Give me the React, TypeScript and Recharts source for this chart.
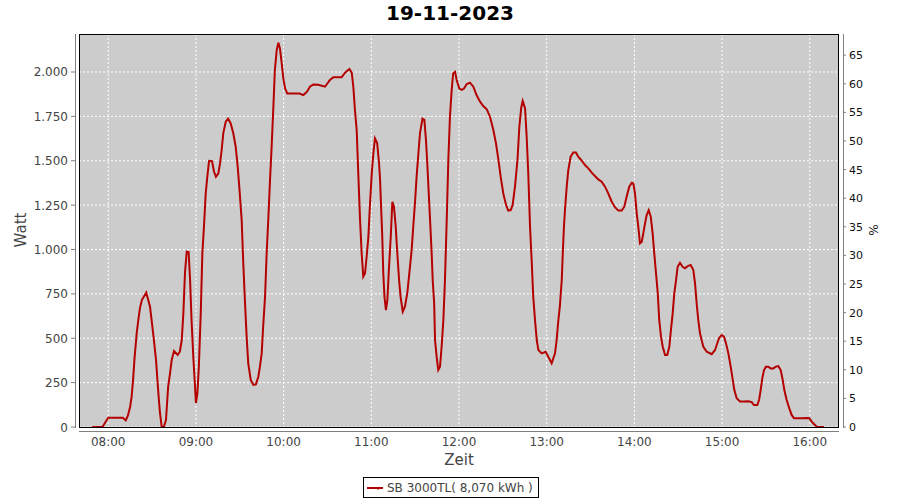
import React from 'react';
import { LineChart, Line, XAxis, YAxis, CartesianGrid } from 'recharts';

// minutes since midnight
const times = [
  469, 476, 479, 480, 490, 492, 493.5, 495, 496, 497,
  498, 499.5, 500.6, 501.7, 503, 506, 508.6, 511, 512.7, 514.3,
  515.4, 516.6, 518, 519.5, 521, 522.3, 523.4, 525, 527.5, 529,
  530.3, 531.4, 532.5, 533.7, 535, 536, 537, 538.2, 539.4, 540,
  541, 542, 543.3, 544.4, 545.5, 546.7, 547.8, 549, 551, 552.4,
  553.7, 555.3, 556.5, 557.6, 558.7, 560.4, 562, 563.8, 565.6, 567.2,
  568.6, 570, 571.3, 572.4, 573.6, 574.7, 575.8, 577.5, 579.3, 581,
  582.7, 583.8, 585, 586, 587.3, 588.4, 589.5, 590.7, 591.8, 593,
  594, 595.3, 596.4, 597.5, 598.7, 599.8, 601, 602.5,
  611, 613.5, 616, 618, 620.3, 623.7, 628.3, 631.7, 634, 639.7,
  642, 645, 646.6, 647.7, 648.8, 650, 651, 652.3, 653.4, 654.5,
  655.7, 656.8, 658, 659, 660.3, 661.4, 662.5, 664, 665.3, 666,
  666.6, 667.5, 668.2, 669, 670, 671, 672, 673.3, 674.4, 675.5,
  676.7, 677.8, 679, 680, 681.5, 683, 684.6, 686, 687.6, 688.7,
  690, 691, 692.2, 693.3, 695, 696.3, 697.4, 698.3, 699.3, 700.2,
  701.3, 702, 703, 703.6, 704.7, 705.8, 707, 708.2, 709.3, 710.4,
  711.6, 712.7, 713.8, 715, 716, 717.3, 718.4, 720.2, 721.8, 723.4,
  725.3, 727.5, 729.8, 732, 734.4, 736.6, 739, 741.2, 743.5, 745.3,
  747, 748.5, 750.3, 752.2, 753.7, 755.4, 756.7, 758.3, 760, 761.3,
  762.6, 763.6, 765.2, 766.3, 767.4, 768.6, 769.7, 770.8, 772, 773.2,
  774.3, 776.6, 779.3, 781.6, 783.4, 785.7, 786.8, 788, 789, 790.3,
  791, 791.8, 792.5, 793.7, 794.8, 796.4, 798.2, 800, 801.6, 804,
  806.2, 808.5, 810.8, 813, 815.3, 817.6, 819.9, 822.1, 824.5, 826.7,
  829, 831.3, 833.1, 834.7, 836.5, 838.2, 839.3, 840.4, 841.6, 842.7,
  843.8, 845, 846.1, 847.3, 848.4, 849.8, 851.2, 852.5, 853.6, 854.8,
  856, 857, 858.2, 859.4, 861, 862.5, 863.9, 865, 866.2, 867.3,
  868.5, 869.6, 871.2, 873, 874.6, 876.5, 878.5, 880.3, 881.5, 882.6,
  883.7, 884.9, 886, 887.2, 889.5, 892.9, 895.2, 896.3, 897.9, 899.7,
  901.3, 902.7, 904.3, 905.9, 907.3, 908.4, 910, 912.3, 915.2, 917.9,
  920.3, 921.8, 924.1, 925.3, 926.4, 927.5, 928.7, 930, 931.6, 933.3,
  935, 936.9, 938.5, 940.1, 941.5, 942.6, 944.2, 946, 947.6, 949.2,
  954.5, 957.9, 959.7, 961.3, 962.9, 964.7, 965.8, 969.7,
];

const watts = [
  0, 0, 39, 52, 52, 37, 65, 114, 171, 265,
  388, 530, 603, 670, 715, 757, 678, 509, 377, 191,
  79, 0, 0, 39, 227, 304, 377, 428, 406, 424,
  490, 640, 866, 988, 986, 828, 603, 396, 227, 135,
  190, 340, 640, 978, 1128, 1316, 1410, 1500, 1498, 1438,
  1410, 1428, 1485, 1560, 1654, 1720, 1737, 1710, 1654, 1579,
  1466, 1316, 1166, 922, 697, 509, 359, 265, 237, 240,
  283, 340, 415, 565, 734, 978, 1166, 1392, 1579, 1804,
  2011, 2124, 2165, 2133, 2048, 1964, 1907, 1879,
  1879, 1870, 1889, 1917, 1930, 1928, 1917, 1955, 1970, 1970,
  1996, 2017, 1996, 1917, 1786, 1673, 1448, 1166, 978, 847,
  866, 959, 1072, 1241, 1429, 1541, 1626, 1600, 1485, 1392,
  1260, 1072, 866, 734, 659, 715, 884, 1072, 1269, 1241,
  1128, 978, 828, 734, 650, 678, 753, 866, 997, 1128,
  1279, 1410, 1541, 1654, 1737, 1730, 1617, 1485, 1316, 1166,
  978, 828, 697, 490, 396, 321, 340, 462, 603, 828,
  1166, 1504, 1748, 1899, 1992, 2001, 1955, 1907, 1899, 1907,
  1932, 1940, 1917, 1870, 1833, 1808, 1790, 1748, 1673, 1598,
  1504, 1410, 1316, 1251, 1219, 1222, 1251, 1354, 1504, 1692,
  1800, 1837, 1795, 1635, 1429, 1128, 941, 734, 603, 490,
  434, 415, 424, 387, 359, 415, 490, 603, 680, 828,
  978, 1128, 1222, 1354, 1448, 1523, 1546, 1546, 1523, 1500,
  1476, 1457, 1433, 1414, 1395, 1382, 1354, 1316, 1269, 1238,
  1219, 1219, 1241, 1297, 1354, 1376, 1372, 1316, 1204, 1128,
  1035, 1043, 1091, 1147, 1194, 1222, 1185, 1091, 978, 866,
  753, 603, 509, 452, 406, 406, 452, 546, 640, 753,
  828, 903, 925, 903, 894, 906, 913, 885, 809, 697,
  603, 528, 490, 452, 424, 410, 434, 462, 500, 518,
  509, 471, 415, 340, 265, 208, 162, 143, 143, 145,
  140, 124, 124, 152, 208, 274, 321, 340, 340, 330,
  330, 340, 343, 321, 265, 208, 152, 105, 68, 49,
  49, 51, 49, 30, 17, 2, 0, 0,
];

const hourTicks = [480, 540, 600, 660, 720, 780, 840, 900, 960];
const wattTicks = [0, 250, 500, 750, 1000, 1250, 1500, 1750, 2000];
const pctTicks = [0, 5, 10, 15, 20, 25, 30, 35, 40, 45, 50, 55, 60, 65];

const title = '19-11-2023';
const seriesName = 'SB 3000TL( 8,070 kWh )';

const data = times.map((t, i) => ({ t, w: watts[i] }));

const FONT = '"DejaVu Sans", Verdana, sans-serif';
const RED = '#b40000';
const AXIS = '#808080';
const TXT = '#444444';
const PLOT = { left: 79, right: 839, top: 34, bottom: 427 };

const fmtW = (v: number) =>
  v >= 1000 ? `${Math.floor(v / 1000)}.${String(v % 1000).padStart(3, '0')}` : String(v);

const fmtT = (m: number) =>
  `${String(Math.floor(m / 60)).padStart(2, '0')}:${String(m % 60).padStart(2, '0')}`;

const LeftTick = (props: any) => {
  const { y, payload } = props;
  return (
    <g>
      <line x1={PLOT.left - 8} x2={PLOT.left - 3.5} y1={y} y2={y} stroke={AXIS} />
      <text x={PLOT.left - 11} y={y} dy={4.5} textAnchor="end" fill={TXT} fontSize={12} fontFamily={FONT}>
        {fmtW(payload.value)}
      </text>
    </g>
  );
};

const RightTick = (props: any) => {
  const { y, payload } = props;
  return (
    <g>
      <line x1={PLOT.right + 4} x2={PLOT.right + 7} y1={y} y2={y} stroke={AXIS} />
      <text x={PLOT.right + 10} y={y} dy={4} textAnchor="start" fill="#111" fontSize={11} fontFamily={FONT}>
        {payload.value}
      </text>
    </g>
  );
};

const BottomTick = (props: any) => {
  const { x, payload } = props;
  return (
    <text x={x} y={PLOT.bottom + 19} textAnchor="middle" fill={TXT} fontSize={12} fontFamily={FONT}>
      {fmtT(payload.value)}
    </text>
  );
};

export default function App() {
  return (
    <div style={{ position: 'absolute', left: 0, top: 0, width: 900, height: 500, background: '#fff' }}>
      <LineChart
        width={900}
        height={500}
        data={data}
        margin={{ top: PLOT.top, right: 11, bottom: 33, left: 29 }}
      >
        <CartesianGrid
          yAxisId="w"
          stroke="#ffffff"
          strokeDasharray="2 2"
          fill="#cccccc"
          fillOpacity={1}
          horizontalValues={wattTicks}
          verticalValues={hourTicks}
        />
        <XAxis
          dataKey="t"
          type="number"
          domain={[460, 980]}
          ticks={hourTicks}
          interval={0}
          height={40}
          axisLine={false}
          tickLine={false}
          tick={<BottomTick />}
        />
        <YAxis
          yAxisId="w"
          orientation="left"
          type="number"
          domain={[0, 2214]}
          ticks={wattTicks}
          interval={0}
          width={50}
          axisLine={false}
          tickLine={false}
          tick={<LeftTick />}
        />
        <YAxis
          yAxisId="pct"
          orientation="right"
          type="number"
          domain={[0, 68.7]}
          allowDataOverflow
          ticks={pctTicks}
          interval={0}
          width={50}
          axisLine={false}
          tickLine={false}
          tick={<RightTick />}
        />
        <Line
          yAxisId="w"
          type="linear"
          dataKey="w"
          stroke={RED}
          strokeWidth={2}
          dot={false}
          activeDot={false}
          isAnimationActive={false}
        />
        {/* keeps the % axis alive, not drawn */}
        <Line
          yAxisId="pct"
          dataKey="w"
          hide
          dot={false}
          activeDot={false}
          isAnimationActive={false}
        />
      </LineChart>

      <svg
        width={900}
        height={500}
        style={{ position: 'absolute', left: 0, top: 0, pointerEvents: 'none' }}
      >
        <rect
          x={PLOT.left + 0.5}
          y={PLOT.top + 0.5}
          width={PLOT.right - PLOT.left - 1}
          height={PLOT.bottom - PLOT.top}
          fill="none"
          stroke="#000"
        />
        <line x1={PLOT.left - 3.5} x2={PLOT.left - 3.5} y1={PLOT.top} y2={PLOT.bottom + 1} stroke={AXIS} />
        <line x1={PLOT.left} x2={PLOT.right} y1={PLOT.bottom + 4.5} y2={PLOT.bottom + 4.5} stroke={AXIS} />
        <line x1={PLOT.right + 4.5} x2={PLOT.right + 4.5} y1={PLOT.top} y2={PLOT.bottom + 1} stroke={AXIS} />
        <text x={450} y={20} textAnchor="middle" fontSize={20} fontWeight="bold" fontFamily={FONT} fill="#000">
          {title}
        </text>
        <text
          x={21}
          y={230}
          dy={5}
          textAnchor="middle"
          fontSize={15}
          fontFamily={FONT}
          fill={TXT}
          transform="rotate(-90, 21, 230)"
        >
          Watt
        </text>
        <text
          x={873}
          y={230}
          dy={4}
          textAnchor="middle"
          fontSize={12}
          fontFamily={FONT}
          fill="#222"
          transform="rotate(90, 873, 230)"
        >
          %
        </text>
        <text x={459} y={465} textAnchor="middle" fontSize={15} fontFamily={FONT} fill={TXT}>
          Zeit
        </text>
      </svg>

      <div
        style={{
          position: 'absolute',
          left: 363,
          top: 477,
          width: 176,
          height: 21,
          boxSizing: 'border-box',
          border: '1px solid #000',
          display: 'flex',
          alignItems: 'center',
          paddingLeft: 3,
          fontFamily: FONT,
          fontSize: 12,
          color: TXT,
          whiteSpace: 'nowrap',
        }}
      >
        <svg width={16} height={10} style={{ marginRight: 4 }}>
          <line x1={0} x2={16} y1={5} y2={5} stroke={RED} strokeWidth={2} />
          <line x1={11} x2={11} y1={5} y2={7} stroke={RED} strokeWidth={1} />
        </svg>
        <span>{seriesName}</span>
      </div>
    </div>
  );
}
